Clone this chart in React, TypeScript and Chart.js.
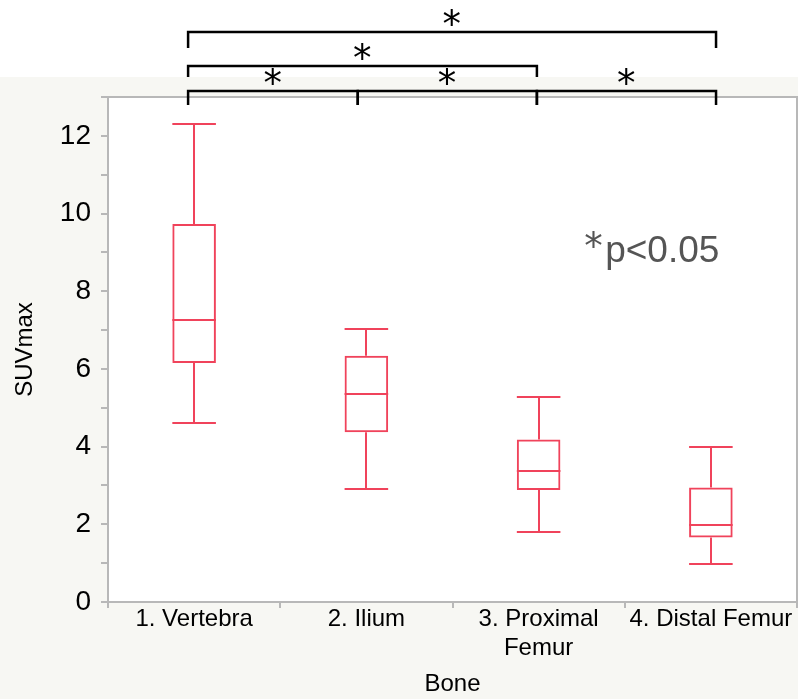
import React, { useEffect, useRef } from 'react';
import { Chart, registerables } from 'chart.js';

Chart.register(...registerables);

// ---- data ----
const categories: (string | string[])[] = ['1. Vertebra', '2. Ilium', ['3. Proximal', 'Femur'], '4. Distal Femur'];
const whiskerLow = [4.62, 2.9, 1.79, 0.98];
const quartile1 = [6.15, 4.37, 2.88, 1.66];
const medians = [7.26, 5.36, 3.38, 1.97];
const quartile3 = [9.73, 6.34, 4.18, 2.95];
const whiskerHigh = [12.31, 7.02, 5.29, 4.0];
const yLabeledTicks = [0, 2, 4, 6, 8, 10, 12];
const yMin = 0;
const yMax = 13;
const xTitle = 'Bone';
const yTitle = 'SUVmax';
// significance brackets: pairs of category indices and stacking level
const comparisons = [
  { from: 0, to: 1, level: 0 },
  { from: 1, to: 2, level: 0 },
  { from: 2, to: 3, level: 0 },
  { from: 0, to: 2, level: 1 },
  { from: 0, to: 3, level: 2 },
];
const bracketAnchors = [-0.035, 0.95, 1.99, 3.03];
const noteStar = '*';
const noteText = 'p<0.05';
const noteAt = { x: 2.27, y: 8.75 };

const RED = '#f0435b';
const AXIS_GRAY = '#b8b8b8';
const FONT = '"Liberation Sans", Arial, Helvetica, sans-serif';
const STAR_FONT = '"DejaVu Sans", sans-serif';

const levelOffsets = [-6, -31, -65];
const levelDrops = [14, 11, 16];

function starFontSize(ctx: CanvasRenderingContext2D, inkWidth: number) {
  ctx.font = `100px ${STAR_FONT}`;
  const m = ctx.measureText('*');
  const ink = m.actualBoundingBoxLeft + m.actualBoundingBoxRight;
  return ink > 0 ? (100 * inkWidth) / ink : 36;
}

const boxPlugin = {
  id: 'boxExtras',
  beforeDraw(chart: any) {
    const { ctx, chartArea: a, width, height } = chart;
    ctx.save();
    ctx.fillStyle = '#ffffff';
    ctx.fillRect(0, 0, width, height);
    ctx.fillStyle = '#f7f7f3';
    ctx.fillRect(0, a.top - 20, width, height);
    ctx.fillStyle = '#ffffff';
    ctx.fillRect(a.left, a.top, a.right - a.left, a.bottom - a.top);
    ctx.restore();
  },
  afterDatasetsDraw(chart: any) {
    const { ctx } = chart;
    const y = chart.scales.y;
    const meta = chart.getDatasetMeta(0);
    ctx.save();
    ctx.strokeStyle = RED;
    ctx.lineWidth = 2;
    ctx.lineCap = 'butt';
    const line = (x1: number, y1: number, x2: number, y2: number) => {
      ctx.beginPath();
      ctx.moveTo(x1, y1);
      ctx.lineTo(x2, y2);
      ctx.stroke();
    };
    meta.data.forEach((bar: any, i: number) => {
      const { x, width } = bar.getProps(['x', 'width'], true);
      const half = width / 2;
      const cx = Math.round(x);
      const yMed = Math.round(y.getPixelForValue(medians[i]));
      const yQ1 = y.getPixelForValue(quartile1[i]);
      const yQ3 = y.getPixelForValue(quartile3[i]);
      const yHi = Math.round(y.getPixelForValue(whiskerHigh[i]));
      const yLo = Math.round(y.getPixelForValue(whiskerLow[i]));
      line(x - half, yMed, x + half, yMed);
      line(cx, yQ3, cx, yHi);
      line(x - half, yHi, x + half, yHi);
      line(cx, yQ1, cx, yLo);
      line(x - half, yLo, x + half, yLo);
    });
    ctx.restore();
  },
  afterDraw(chart: any) {
    const { ctx, chartArea: a } = chart;
    const xs = chart.scales.x;
    const ys = chart.scales.y;
    ctx.save();
    // top and right frame
    ctx.strokeStyle = AXIS_GRAY;
    ctx.lineWidth = 2;
    ctx.beginPath();
    ctx.moveTo(a.left, a.top);
    ctx.lineTo(a.right, a.top);
    ctx.lineTo(a.right, a.bottom);
    ctx.stroke();

    // brackets
    ctx.strokeStyle = '#000000';
    ctx.lineWidth = 2.5;
    ctx.lineCap = 'butt';
    ctx.lineJoin = 'miter';
    const starSize = starFontSize(ctx, 17);
    comparisons.forEach((c) => {
      const x1 = xs.getPixelForValue(bracketAnchors[c.from]);
      const x2 = xs.getPixelForValue(bracketAnchors[c.to]);
      const ly = a.top + levelOffsets[c.level];
      const drop = levelDrops[c.level];
      ctx.beginPath();
      ctx.moveTo(x1, ly + drop);
      ctx.lineTo(x1, ly);
      ctx.lineTo(x2, ly);
      ctx.lineTo(x2, ly + drop);
      ctx.stroke();
      ctx.font = `${starSize}px ${STAR_FONT}`;
      ctx.fillStyle = '#000000';
      ctx.textAlign = 'left';
      ctx.textBaseline = 'alphabetic';
      const m = ctx.measureText('*');
      const cx = (x1 + x2) / 2;
      const cy = ly - 15;
      const tx = cx - (m.actualBoundingBoxRight - m.actualBoundingBoxLeft) / 2;
      const ty = cy - (m.actualBoundingBoxDescent - m.actualBoundingBoxAscent) / 2;
      ctx.fillText('*', tx, ty);
    });

    // significance note: raised star followed by text
    const nx = xs.getPixelForValue(noteAt.x);
    const ny = ys.getPixelForValue(noteAt.y);
    const noteStarSize = starFontSize(ctx, 17);
    ctx.font = `${noteStarSize}px ${STAR_FONT}`;
    ctx.fillStyle = '#555555';
    ctx.textAlign = 'left';
    ctx.textBaseline = 'alphabetic';
    const sm = ctx.measureText(noteStar);
    // star top aligned roughly with digit tops (~32px above baseline)
    const starTop = ny - 32;
    ctx.fillText(noteStar, nx + sm.actualBoundingBoxLeft, starTop + sm.actualBoundingBoxAscent);
    ctx.font = `37px ${FONT}`;
    ctx.fillText(noteText, nx + 20, ny);
    ctx.restore();
  },
};

export default function App() {
  const canvasRef = useRef<HTMLCanvasElement | null>(null);

  useEffect(() => {
    document.body.style.margin = '0';
    const canvas = canvasRef.current;
    if (!canvas) return;
    const chart = new Chart(canvas, {
      type: 'bar',
      data: {
        labels: categories as any,
        datasets: [
          {
            label: 'SUVmax',
            data: quartile1.map((q, i) => [q, quartile3[i]]) as any,
            backgroundColor: 'rgba(0,0,0,0)',
            borderColor: RED,
            borderWidth: 2,
            borderSkipped: false,
            barPercentage: 0.253,
            categoryPercentage: 1,
          },
        ],
      },
      options: {
        responsive: false,
        animation: false,
        devicePixelRatio: 1,
        layout: { padding: { top: 97, right: 1, left: 0, bottom: 0 } },
        plugins: {
          legend: { display: false },
          tooltip: { enabled: false },
          title: { display: false },
        },
        scales: {
          x: {
            type: 'category',
            offset: true,
            grid: {
              offset: true,
              drawOnChartArea: false,
              drawTicks: true,
              tickLength: 6,
              color: AXIS_GRAY,
              lineWidth: 2,
            },
            border: { display: true, color: AXIS_GRAY, width: 2 },
            ticks: {
              color: '#000000',
              font: { family: FONT, size: 24, lineHeight: 1.2 },
              padding: -3,
              maxRotation: 0,
              autoSkip: false,
            },
            title: {
              display: true,
              text: xTitle,
              color: '#000000',
              font: { family: FONT, size: 24, lineHeight: 1.2 },
              padding: { top: 0, bottom: 0 },
            },
            afterFit: (scale: any) => {
              scale.height = 97;
            },
          } as any,
          y: {
            type: 'linear',
            min: yMin,
            max: yMax,
            grid: {
              drawOnChartArea: false,
              drawTicks: true,
              tickLength: 7,
              color: AXIS_GRAY,
              lineWidth: 2,
            },
            border: { display: true, color: AXIS_GRAY, width: 2 },
            ticks: {
              stepSize: 1,
              color: '#000000',
              font: { family: FONT, size: 28 },
              padding: 10,
              callback: (v: any) => (yLabeledTicks.includes(Number(v)) ? String(v) : ''),
            },
            title: {
              display: true,
              text: yTitle,
              color: '#000000',
              font: { family: FONT, size: 24, lineHeight: 1.2 },
              padding: { top: 11, bottom: 0 },
            },
            afterFit: (scale: any) => {
              scale.width = 108;
            },
          } as any,
        },
      },
      plugins: [boxPlugin],
    });
    return () => chart.destroy();
  }, []);

  return (
    <div style={{ position: 'absolute', left: 0, top: 0, width: 798, height: 699 }}>
      <canvas ref={canvasRef} width={798} height={699} style={{ display: 'block' }} />
    </div>
  );
}
